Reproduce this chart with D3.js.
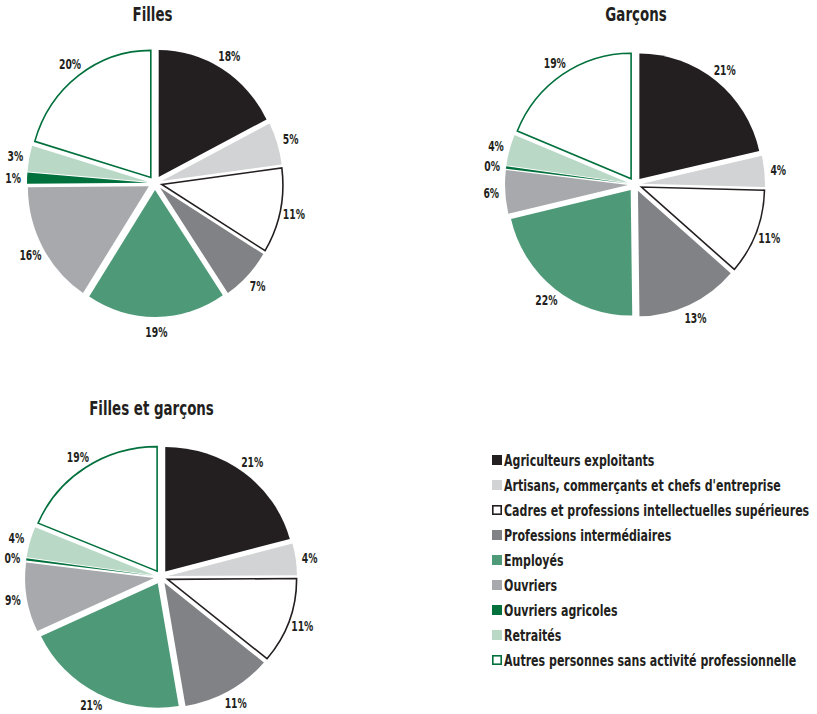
<!DOCTYPE html>
<html>
<head>
<meta charset="utf-8">
<script src="https://cdn.jsdelivr.net/npm/d3@7"></script>
<style>
  html, body { margin: 0; padding: 0; background: #fff; }
  svg { display: block; }
  text { font-family: "DejaVu Sans", sans-serif; fill: #231f20; }
</style>
</head>
<body>
<svg id="chart" width="817" height="714"></svg>
<script>
const categories = [
  "Agriculteurs exploitants",
  "Artisans, commerçants et chefs d'entreprise",
  "Cadres et professions intellectuelles supérieures",
  "Professions intermédiaires",
  "Employés",
  "Ouvriers",
  "Ouvriers agricoles",
  "Retraités",
  "Autres personnes sans activité professionnelle"
];
// shares (%); labels are the rounded values
const filles   = [17.5, 5.4, 10.8, 6.8, 18.6, 15.7, 1.4, 3.3, 20.4];
const garcons  = [21.4, 4.0, 11.0, 13.4, 21.5, 5.6, 0.3, 4.0, 18.8];
const ensemble = [20.8, 4.1, 11.1, 11.4, 20.6, 9.0, 0.3, 4.0, 18.7];
const titles = ["Filles", "Garçons", "Filles et garçons"];

const fills   = ["#231f20", "#d1d3d4", "#ffffff", "#808285", "#4e9a78", "#a7a9ac", "#00703c", "#bad8c6", "#ffffff"];
const strokes = [null, null, "#231f20", null, null, null, null, null, "#00703c"];

const svg = d3.select("#chart");

function condensedText(sel, x, y, sx) {
  return sel.attr("transform", `translate(${x},${y}) scale(${sx},1)`);
}

const pies = [
  { title: titles[0], values: filles,   cx: 155, cy: 183, rx: 121, ry: 127, tx: 152.5, ty: 21 },
  { title: titles[1], values: garcons,  cx: 635, cy: 184.5, rx: 123, ry: 125.5, tx: 636, ty: 21 },
  { title: titles[2], values: ensemble, cx: 161, cy: 577, rx: 129, ry: 124.5, tx: 151.5, ty: 415 }
];

const pieGen = d3.pie().sort(null).value(d => d);
const explode = 7;

pies.forEach(p => {
  const arcs = pieGen(p.values);
  const k = p.ry / p.rx;
  const arc = d3.arc().innerRadius(0).outerRadius(p.rx);
  const labelArc = d3.arc().innerRadius(p.rx + 21).outerRadius(p.rx + 21);
  const g = svg.append("g").attr("transform", `translate(${p.cx},${p.cy})`);
  const sg = g.append("g").attr("transform", `scale(1,${k})`);

  sg.selectAll("path.slice")
    .data(arcs)
    .join("path")
    .attr("class", "slice")
    .attr("transform", d => {
      const m = (d.startAngle + d.endAngle) / 2;
      return `translate(${explode * Math.sin(m)},${-explode * Math.cos(m) / k})`;
    })
    .attr("d", arc)
    .attr("fill", (d, i) => fills[i])
    .attr("stroke", (d, i) => strokes[i] || "none")
    .attr("stroke-width", 1.6)
    .attr("vector-effect", "non-scaling-stroke")
    .attr("stroke-linejoin", "miter");

  g.selectAll("text.lbl")
    .data(arcs)
    .join("text")
    .attr("class", "lbl")
    .each(function(d) {
      const c = labelArc.centroid(d);
      condensedText(d3.select(this), c[0], c[1] * k, 0.66);
    })
    .attr("text-anchor", "middle")
    .attr("dy", "0.36em")
    .attr("font-size", 14)
    .attr("font-weight", "bold")
    .text(d => Math.round(d.data) + "%");

  condensedText(svg.append("text"), p.tx, p.ty, 0.67)
    .attr("text-anchor", "middle")
    .attr("font-size", 20)
    .attr("font-weight", "bold")
    .text(p.title);
});

// Legend
const legend = svg.append("g").attr("transform", "translate(492,460)");
const rowH = 25;
const items = legend.selectAll("g.item")
  .data(categories)
  .join("g")
  .attr("class", "item")
  .attr("transform", (d, i) => `translate(0,${i * rowH})`);

items.append("rect")
  .attr("x", (d, i) => strokes[i] ? 0.8 : 0)
  .attr("y", (d, i) => strokes[i] ? -4.2 : -5)
  .attr("width", (d, i) => strokes[i] ? 8.4 : 10)
  .attr("height", (d, i) => strokes[i] ? 8.4 : 10)
  .attr("fill", (d, i) => fills[i])
  .attr("stroke", (d, i) => strokes[i] || "none")
  .attr("stroke-width", 1.6);

items.append("text")
  .each(function() { condensedText(d3.select(this), 12, 0, 0.69); })
  .attr("dy", "0.36em")
  .attr("font-size", 16)
  .attr("font-weight", "bold")
  .text(d => d);
</script>
</body>
</html>
